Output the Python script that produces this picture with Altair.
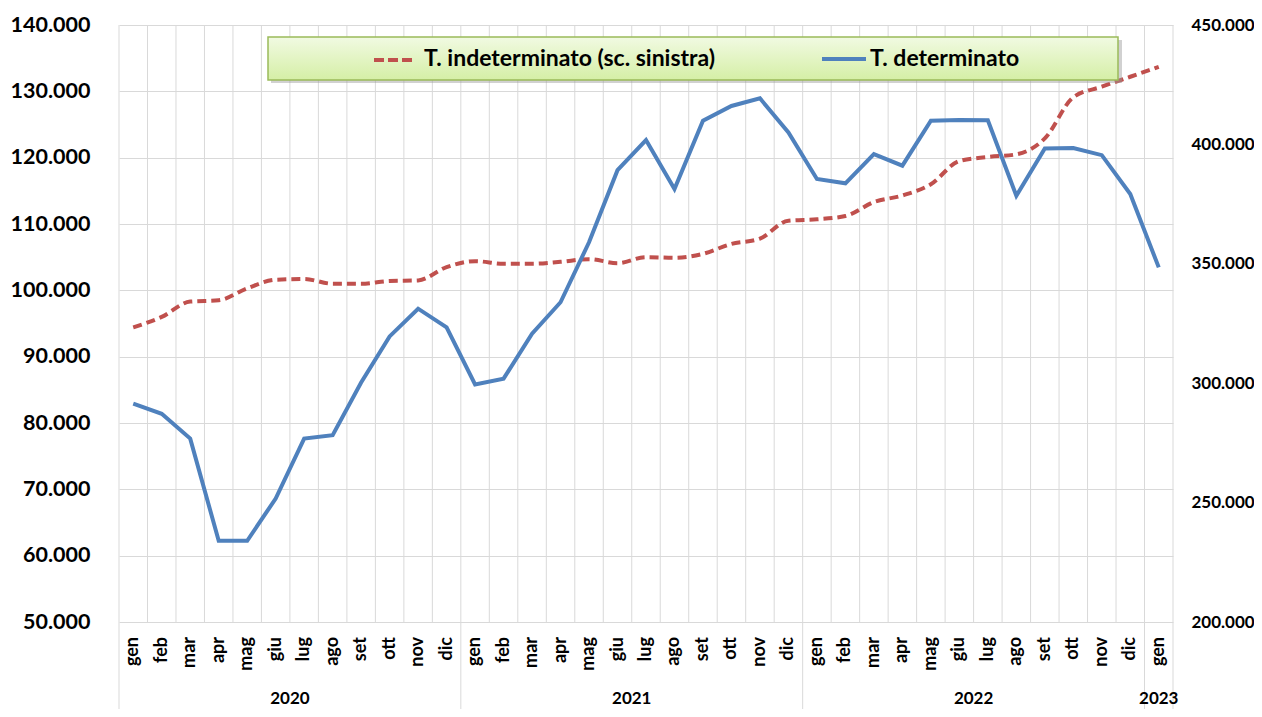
import altair as alt
import pandas as pd

MONTHS = ["gen", "feb", "mar", "apr", "mag", "giu", "lug", "ago", "set", "ott", "nov", "dic"]
YEARS = ["2020", "2021", "2022", "2023"]
YEAR_POS = [5.5, 17.5, 29.5, 36]          # centre of each year group (category index)
YEAR_BOUNDS = [-0.5, 11.5, 23.5, 35.5, 36.5]
SERIES = ["T. indeterminato (sc. sinistra)", "T. determinato"]

# T. indeterminato (left axis)
INDET = [94400, 96000, 98300, 98500, 100300, 101600, 101700, 101000, 101000, 101400, 101500, 103500,
         104400, 104000, 104000, 104300, 104700, 104100, 105000, 104900, 105500, 107000, 107800, 110500,
         110700, 111200, 113300, 114300, 116000, 119500, 120100, 120500, 122900, 129100, 130700, 132200,
         133700]
# T. determinato (right axis)
DET = [291400, 287200, 276800, 234000, 234000, 251700, 276800, 278200, 300300, 319600, 331200, 323400,
       299500, 301900, 320700, 333900, 359000, 389200, 401800, 381300, 409900, 416100, 419300, 405000,
       385500, 383700, 395900, 391100, 409900, 410200, 410100, 378500, 398300, 398500, 395500, 379200,
       348500]

N = len(INDET)
df = pd.DataFrame({"idx": list(range(N)), "indet": INDET, "det": DET,
                   "month": [MONTHS[i % 12] for i in range(N)]})
bounds = pd.DataFrame({"b": [i - 0.5 for i in range(N + 1)]})
ybounds = pd.DataFrame({"b": YEAR_BOUNDS})
years = pd.DataFrame({"year": YEARS, "pos": YEAR_POS})
one = pd.DataFrame({"k": [0]})

RED = "#c0504d"
BLUE = "#4f81bd"
GRID = "#d9d9d9"
FONT = "Lato"
W, H = 1054, 597

xscale = alt.Scale(domain=[-0.5, N - 0.5], nice=False, zero=False)
num_expr = "replace(format(datum.value, ',.0f'), ',', '.')"

vgrid = alt.Chart(bounds).mark_rule(color=GRID, strokeWidth=1).encode(
    x=alt.X("b:Q", scale=xscale, axis=None), y=alt.value(0), y2=alt.value(H))

ysep = alt.Chart(ybounds).mark_rule(color=GRID, strokeWidth=1).encode(
    x=alt.X("b:Q", scale=xscale, axis=None), y=alt.value(H), y2=alt.value(H + 110))

month_text = alt.Chart(df).mark_text(font=FONT, fontSize=18, fontWeight="bold", color="black",
                                     angle=270, align="right", baseline="middle").encode(
    x=alt.X("idx:Q", scale=xscale, axis=None), y=alt.value(H + 15), text="month:N")

year_text = alt.Chart(years).mark_text(font=FONT, fontSize=17, fontWeight="bold", color="black",
                                       baseline="bottom", align="center").encode(
    x=alt.X("pos:Q", scale=xscale, axis=None), y=alt.value(H + 86), text="year:N")

red = alt.Chart(df).mark_line(color=RED, strokeWidth=4, strokeDash=[9, 5], interpolate="monotone").encode(
    x=alt.X("idx:Q", scale=xscale, axis=None),
    y=alt.Y("indet:Q", scale=alt.Scale(domain=[50000, 140000], nice=False, zero=False),
            axis=alt.Axis(orient="left", values=list(range(50000, 140001, 10000)), labelExpr=num_expr,
                          grid=True, gridColor=GRID, gridWidth=1, ticks=False, domain=False,
                          labelFont=FONT, labelFontSize=21.5, labelFontWeight="bold", labelColor="black",
                          labelPadding=29, labelFlush=False, title=None)))

blue = alt.Chart(df).mark_line(color=BLUE, strokeWidth=4).encode(
    x=alt.X("idx:Q", scale=xscale, axis=None),
    y=alt.Y("det:Q", scale=alt.Scale(domain=[200000, 450000], nice=False, zero=False),
            axis=alt.Axis(orient="right", values=list(range(200000, 450001, 50000)), labelExpr=num_expr,
                          grid=False, ticks=False, domain=False, labelFont=FONT, labelFontSize=17,
                          labelFontWeight="bold", labelColor="black", labelPadding=18, labelFlush=False,
                          title=None)))

# legend box
shadow = alt.Chart(one).mark_rect(color="#9a9a9a", opacity=0.45).encode(
    x=alt.value(152), x2=alt.value(1003), y=alt.value(15), y2=alt.value(58))
box = alt.Chart(one).mark_rect(
    stroke="#9bbb59", strokeWidth=1.5,
    color=alt.Gradient(gradient="linear", x1=0, x2=0, y1=0, y2=1,
                       stops=[alt.GradientStop(color="#f1fae2", offset=0),
                              alt.GradientStop(color="#d5efa6", offset=1)])).encode(
    x=alt.value(149), x2=alt.value(999), y=alt.value(12), y2=alt.value(55))
leg_red = alt.Chart(one).mark_rule(color=RED, strokeWidth=4, strokeDash=[10, 4]).encode(
    x=alt.value(255), x2=alt.value(297), y=alt.value(35))
leg_blue = alt.Chart(one).mark_rule(color=BLUE, strokeWidth=4).encode(
    x=alt.value(703), x2=alt.value(747), y=alt.value(34))
txt_style = dict(font=FONT, fontSize=23, fontWeight="bold", color="black", align="left", baseline="middle")
leg_t1 = alt.Chart(one).mark_text(**txt_style).encode(
    x=alt.value(305), y=alt.value(34), text=alt.value(SERIES[0]))
leg_t2 = alt.Chart(one).mark_text(**txt_style).encode(
    x=alt.value(751), y=alt.value(34), text=alt.value(SERIES[1]))

chart = alt.layer(vgrid, ysep, month_text, year_text, red, blue, shadow, box, leg_red, leg_blue,
                  leg_t1, leg_t2).resolve_scale(y="independent").properties(
    width=W, height=H,
    padding={"left": 111, "top": 17, "right": 81, "bottom": 87},
    autosize=alt.AutoSizeParams(type="none"),
    background="white",
).configure_view(stroke=None)

chart.save("out.html", embed_options={"renderer": "svg", "actions": False})
